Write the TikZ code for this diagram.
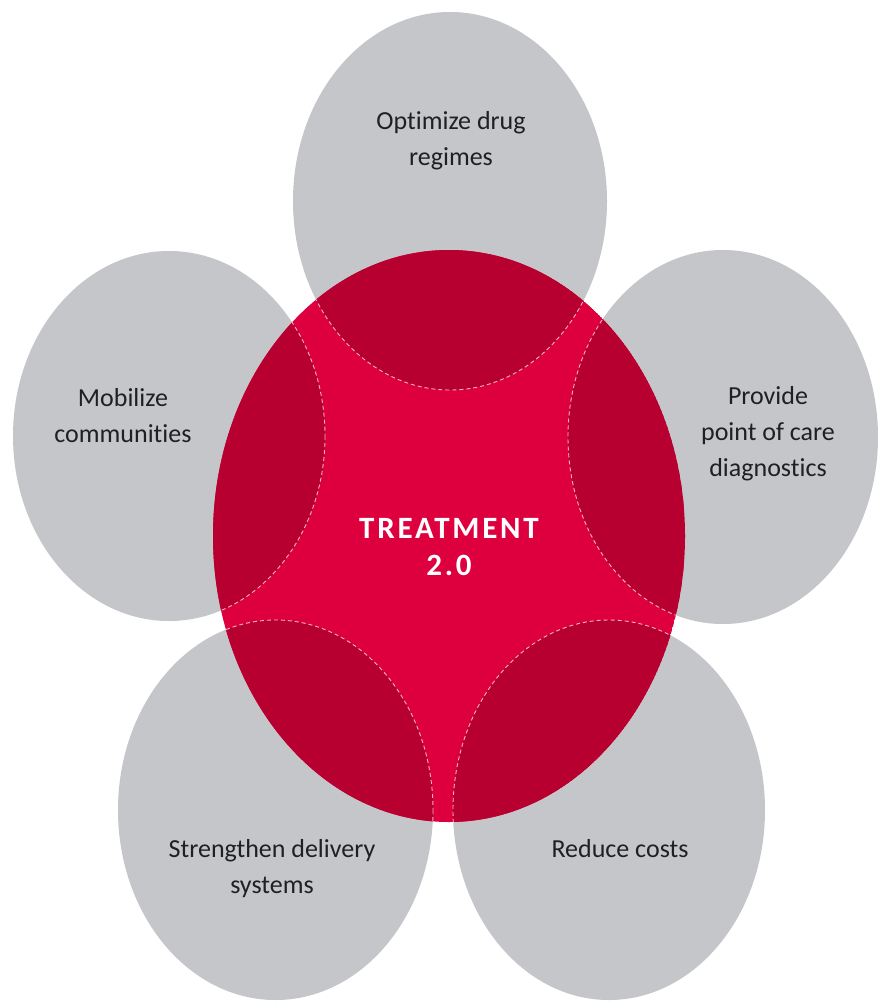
\documentclass[tikz,border=0pt]{standalone}
\usepackage{fontspec}
\setmainfont{Carlito}[Ligatures={NoCommon}]
\definecolor{petal}{RGB}{196,198,201}
\definecolor{hotred}{RGB}{222,0,62}
\definecolor{deepred}{RGB}{183,0,48}
\definecolor{labelink}{RGB}{32,32,36}
\tikzset{
  petallabel/.style={text=labelink, align=center, inner sep=0pt,
    font=\fontsize{26}{36}\selectfont},
  corelabel/.style={text=white, align=center, inner sep=0pt,
    font=\fontsize{31}{37}\selectfont\bfseries\addfontfeatures{LetterSpace=9}},
  seam/.style={draw=white, opacity=0.7, line width=0.9pt, dash pattern=on 4pt off 3pt},
}
\begin{document}
\begin{tikzpicture}[x=1pt,y=-1pt]
\useasboundingbox (0,0) rectangle (879,1001);
\fill[white] (0,0) rectangle (879,1001);
% grey petals
\foreach \cx/\cy/\rx/\ry in {450/201/157/189, 169/436/156/185, 723/437/155/187, 275.5/810/157.5/190, 609/810/156/190}{
  \fill[petal] (\cx,\cy) ellipse [x radius=\rx, y radius=\ry];
}
% central red ellipse with darker overlaps
\begin{scope}
  \clip (449,536) ellipse [x radius=236, y radius=286];
  \fill[hotred] (449,536) ellipse [x radius=236, y radius=286];
  \foreach \cx/\cy/\rx/\ry in {450/201/157/189, 169/436/156/185, 723/437/155/187, 275.5/810/157.5/190, 609/810/156/190}{
    \fill[deepred] (\cx,\cy) ellipse [x radius=\rx, y radius=\ry];
  }
  \foreach \cx/\cy/\rx/\ry in {450/201/157/189, 169/436/156/185, 723/437/155/187, 275.5/810/157.5/190, 609/810/156/190}{
    \draw[seam] (\cx,\cy) ellipse [x radius=\rx, y radius=\ry];
  }
\end{scope}
% labels
\node[petallabel] (optimize) at (451,141) {Optimize drug\\regimes};
\node[petallabel] (mobilize) at (123,416) {Mobilize\\communities};
\node[petallabel] (provide) at (768,434) {Provide\\point of care\\diagnostics};
\node[petallabel] (strengthen) at (272,869) {Strengthen delivery\\systems};
\node[petallabel] (reduce) at (620,849) {Reduce costs};
\node[corelabel] (core) at (449,547) {TREATMENT\\2.0};
\end{tikzpicture}
\end{document}
